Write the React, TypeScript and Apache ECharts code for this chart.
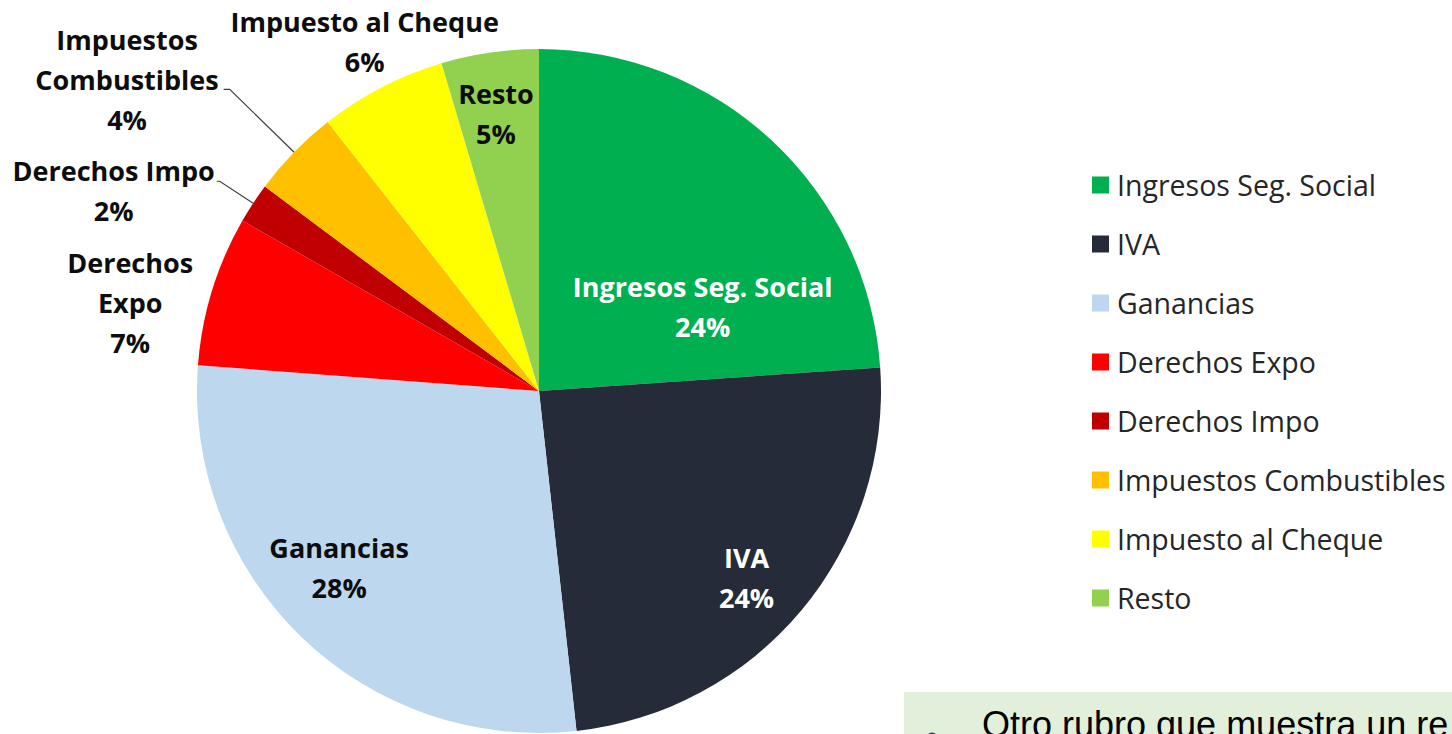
import React, { useEffect, useRef } from "react";
import * as echarts from "echarts";

const categories = [
  "Ingresos Seg. Social",
  "IVA",
  "Ganancias",
  "Derechos Expo",
  "Derechos Impo",
  "Impuestos Combustibles",
  "Impuesto al Cheque",
  "Resto",
];
const shares = [23.9, 24.35, 27.95, 7.1, 1.9, 4.2, 6.0, 4.6];
const labelNames = [
  "Ingresos Seg. Social",
  "IVA",
  "Ganancias",
  "Derechos\nExpo",
  "Derechos Impo",
  "Impuestos\nCombustibles",
  "Impuesto al Cheque",
  "Resto",
];
const colors = ["#00B050", "#252B38", "#BDD7EE", "#FF0000", "#C00000", "#FFC000", "#FFFF00", "#92D050"];
const noteText = "Otro rubro que muestra un re";

// label layout tweaks (offsets from ECharts' default label anchor)
const labelOffsets: Record<number, [number, number]> = {
  0: [45, 43],
  1: [74, 75],
  2: [-79, 51],
  6: [122, -46],
  7: [-18, -105],
};

const LABEL_FONT = "'Open Sans'";

export default function App() {
  const ref = useRef<HTMLDivElement>(null);
  useEffect(() => {
    if (!ref.current) return;
    const chart = echarts.init(ref.current, null, { renderer: "svg" });
    const baseRich = {
      align: "center",
      fontFamily: LABEL_FONT,
      fontWeight: "bold",
      fontSize: 27,
      lineHeight: 40,
    };
    const itemLabel = (i: number): any => {
      const dark = "#0D0D0D";
      switch (i) {
        case 0:
        case 1:
          return { position: "inside", color: "#FFFFFF", rich: { c: { ...baseRich, color: "#FFFFFF" } } };
        case 2:
        case 7:
          return { position: "inside", color: dark, rich: { c: { ...baseRich, color: dark } } };
        case 3:
          return { position: "outside", padding: [25, 0, 0, 0], rich: { c: { ...baseRich, color: dark } } };
        case 4:
          return {
            position: "outside",
            distanceToLabelLine: 2,
            padding: [18, 0, 0, 0],
            rich: { c: { ...baseRich, color: dark } },
          };
        case 5:
          return { position: "outside", padding: [0, 0, 20, 0], rich: { c: { ...baseRich, color: dark } } };
        default:
          return { position: "outside", rich: { c: { ...baseRich, color: dark } } };
      }
    };
    const itemLine = (i: number): any => {
      if (i === 4) return { show: true, length: 40, length2: 3 };
      if (i === 5) return { show: true, length: 90, length2: 6 };
      if (i === 3) return { show: false, length: 0, length2: 14 };
      return { show: false, length: 0, length2: 0 };
    };
    const data = categories.map((name, i) => ({
      name,
      value: shares[i],
      itemStyle: { color: colors[i] },
      label: itemLabel(i),
      labelLine: itemLine(i),
    }));
    chart.setOption({
      animation: false,
      legend: {
        orient: "vertical",
        left: 1092,
        top: 167,
        padding: 0,
        itemWidth: 17,
        itemHeight: 17,
        itemGap: 23,
        icon: "rect",
        data: categories,
        textStyle: {
          fontFamily: LABEL_FONT,
          fontSize: 28.5,
          lineHeight: 36,
          color: "#262626",
          padding: [0, 0, 0, 3],
        },
      },
      graphic: [
        {
          type: "rect",
          shape: { x: 904, y: 692, width: 560, height: 60 },
          style: { fill: "#E2EFDA" },
        },
        {
          type: "circle",
          shape: { cx: 932, cy: 738, r: 5.5 },
          style: { fill: "#3B4456" },
        },
        {
          type: "text",
          x: 982,
          y: 706,
          style: {
            text: noteText,
            font: "36px 'Liberation Sans'",
            fill: "#000000",
            verticalAlign: "top",
          },
        },
      ],
      series: [
        {
          type: "pie",
          center: [539, 391],
          radius: 342,
          startAngle: 90,
          clockwise: true,
          avoidLabelOverlap: false,
          data,
          label: {
            fontFamily: LABEL_FONT,
            fontWeight: "bold",
            fontSize: 27,
            lineHeight: 40,
            distanceToLabelLine: 5,
            formatter: (p: any) => {
              const lines = labelNames[p.dataIndex].split("\n");
              lines.push(Math.round(p.value) + "%");
              return lines.map((l) => "{c|" + l + "}").join("\n");
            },
          },
          labelLine: {
            lineStyle: { color: "#404040", width: 1.2 },
          },
          labelLayout: (params: any) => {
            const off = labelOffsets[params.dataIndex];
            return off ? { dx: off[0], dy: off[1] } : {};
          },
          emphasis: { disabled: true },
        },
      ],
    });
    return () => chart.dispose();
  }, []);
  return (
    <div
      ref={ref}
      style={{ position: "fixed", left: 0, top: 0, width: 1452, height: 734, background: "#fff" }}
    />
  );
}
